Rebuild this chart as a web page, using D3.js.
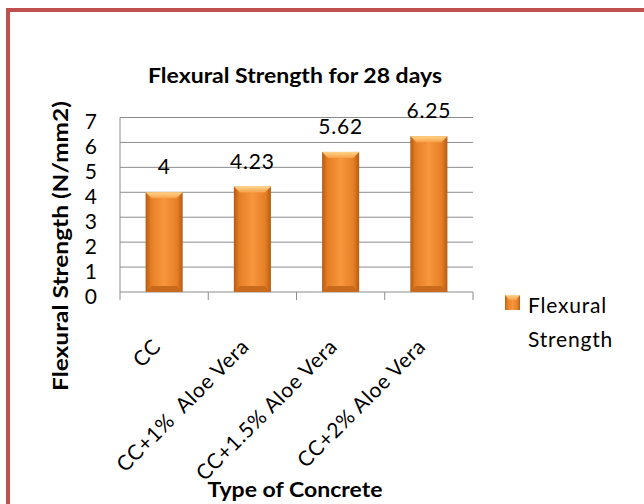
<!DOCTYPE html>
<html>
<head>
<meta charset="utf-8">
<script src="https://cdn.jsdelivr.net/npm/d3@7"></script>
<style>
  body { margin: 0; background: #fff; }
  svg text { font-family: Lato, "Open Sans", sans-serif; fill: #000; }
</style>
</head>
<body>
<div id="chart"></div>
<script>
// data
var categories = ["CC", "CC+1%  Aloe Vera", "CC+1.5% Aloe Vera", "CC+2% Aloe Vera"];
var strength = [4, 4.23, 5.62, 6.25];
var valueLabels = ["4", "4.23", "5.62", "6.25"];
var yTicks = [0, 1, 2, 3, 4, 5, 6, 7];

var svg = d3.select("#chart").append("svg").attr("width", 644).attr("height", 504);

// red frame, only top and left visible
svg.append("path")
  .attr("d", "M8,504 L8,10 L644,10")
  .attr("fill", "none")
  .attr("stroke", "#c0504d")
  .attr("stroke-width", 4);

var margin = {top: 117.5, left: 120, right: 171, bottom: 212};
var width = 644 - margin.left - margin.right;
var height = 504 - margin.top - margin.bottom;

var g = svg.append("g").attr("transform", "translate(" + margin.left + "," + margin.top + ")");

var x = d3.scaleBand().domain(categories).range([0, width]).paddingInner(0.58).paddingOuter(0.29);
var xTicks = d3.scaleBand().domain(categories).range([0, width]);
var y = d3.scaleLinear().domain([0, 7]).range([height, 0]);

var defs = svg.append("defs");
var barGrad = defs.append("linearGradient").attr("id", "barGrad").attr("x1", 0).attr("x2", 1).attr("y1", 0).attr("y2", 0);
barGrad.append("stop").attr("offset", "0%").attr("stop-color", "#b85a12");
barGrad.append("stop").attr("offset", "15%").attr("stop-color", "#e57f25");
barGrad.append("stop").attr("offset", "50%").attr("stop-color", "#f7963c");
barGrad.append("stop").attr("offset", "85%").attr("stop-color", "#e57f25");
barGrad.append("stop").attr("offset", "100%").attr("stop-color", "#b85a12");
var topGrad = defs.append("linearGradient").attr("id", "topGrad").attr("x1", 0).attr("x2", 0).attr("y1", 0).attr("y2", 1);
topGrad.append("stop").attr("offset", "0%").attr("stop-color", "#ffd58a");
topGrad.append("stop").attr("offset", "100%").attr("stop-color", "#f8a04a");

// gridlines
g.append("g")
  .selectAll("line")
  .data(yTicks)
  .join("line")
  .attr("x1", 0).attr("x2", width)
  .attr("y1", function(d) { return y(d); })
  .attr("y2", function(d) { return y(d); })
  .attr("stroke", "#8c8c8c")
  .attr("stroke-width", 1);

// y axis line and labels
g.append("line").attr("x1", 0).attr("x2", 0).attr("y1", 0).attr("y2", height).attr("stroke", "#8c8c8c");
g.append("g")
  .selectAll("text")
  .data(yTicks)
  .join("text")
  .attr("x", -23)
  .attr("y", function(d) { return y(d) + 4; })
  .attr("dy", "0.36em")
  .attr("text-anchor", "end")
  .attr("font-size", 21)
  .text(function(d) { return d; });

// x tick marks below the axis
g.append("g")
  .selectAll("line")
  .data(categories.concat(["end"]))
  .join("line")
  .attr("x1", function(d, i) { return i * xTicks.step(); })
  .attr("x2", function(d, i) { return i * xTicks.step(); })
  .attr("y1", height)
  .attr("y2", height + 8)
  .attr("stroke", "#8c8c8c");

// bars
var bars = g.append("g").selectAll("g").data(strength).join("g");
bars.append("rect")
  .attr("x", function(d, i) { return x(categories[i]); })
  .attr("y", function(d) { return y(d); })
  .attr("width", x.bandwidth())
  .attr("height", function(d) { return y(0) - y(d); })
  .attr("fill", "url(#barGrad)");
bars.append("path")
  .attr("d", function(d, i) {
    var x0 = x(categories[i]), w = x.bandwidth(), y0 = y(d);
    return "M" + x0 + "," + y0 + " L" + (x0 + w) + "," + y0 + " L" + (x0 + w - 6) + "," + (y0 + 6) + " L" + (x0 + 6) + "," + (y0 + 6) + " Z";
  })
  .attr("fill", "url(#topGrad)");
bars.append("path")
  .attr("d", function(d, i) {
    var x0 = x(categories[i]), w = x.bandwidth(), y1 = y(0);
    return "M" + x0 + "," + y1 + " L" + (x0 + w) + "," + y1 + " L" + (x0 + w - 6) + "," + (y1 - 6) + " L" + (x0 + 6) + "," + (y1 - 6) + " Z";
  })
  .attr("fill", "#c96a1c");

// value labels
g.append("g")
  .selectAll("text")
  .data(strength)
  .join("text")
  .attr("x", function(d, i) { return x(categories[i]) + x.bandwidth() / 2; })
  .attr("y", function(d) { return y(d) - 18; })
  .attr("text-anchor", "middle")
  .attr("font-size", 21)
  .attr("letter-spacing", 0.8)
  .text(function(d, i) { return valueLabels[i]; });

// rotated category labels
g.append("g")
  .selectAll("text")
  .data(categories)
  .join("text")
  .attr("transform", function(d) {
    return "translate(" + (xTicks(d) + xTicks.bandwidth() / 2 - 2) + "," + (height + 56) + ") rotate(-45)";
  })
  .attr("text-anchor", "end")
  .attr("font-size", 21)
  .attr("letter-spacing", 0.6)
  .style("white-space", "pre")
  .text(function(d) { return d; });

// title
svg.append("text")
  .attr("x", 295).attr("y", 83)
  .attr("text-anchor", "middle")
  .attr("font-size", 20)
  .attr("font-weight", "bold")
  .attr("textLength", 294)
  .attr("lengthAdjust", "spacingAndGlyphs")
  .text("Flexural Strength for 28 days");

// axis titles
svg.append("text")
  .attr("transform", "translate(68,246) rotate(-90)")
  .attr("text-anchor", "middle")
  .attr("font-size", 20)
  .attr("font-weight", "bold")
  .attr("textLength", 290)
  .attr("lengthAdjust", "spacingAndGlyphs")
  .text("Flexural Strength (N/mm2)");
svg.append("text")
  .attr("x", 295).attr("y", 497)
  .attr("text-anchor", "middle")
  .attr("font-size", 20)
  .attr("font-weight", "bold")
  .attr("textLength", 175)
  .attr("lengthAdjust", "spacingAndGlyphs")
  .text("Type of Concrete");

// legend
var lg = svg.append("g").attr("transform", "translate(505,295)");
lg.append("rect").attr("width", 15).attr("height", 15).attr("fill", "url(#barGrad)");
lg.append("path").attr("d", "M0,0 L15,0 L11,5 L4,5 Z").attr("fill", "url(#topGrad)");
lg.append("text").attr("x", 23).attr("y", 18).attr("font-size", 21).attr("letter-spacing", 0.8).text("Flexural");
lg.append("text").attr("x", 23).attr("y", 52).attr("font-size", 21).attr("letter-spacing", 0.8).text("Strength");
</script>
</body>
</html>
